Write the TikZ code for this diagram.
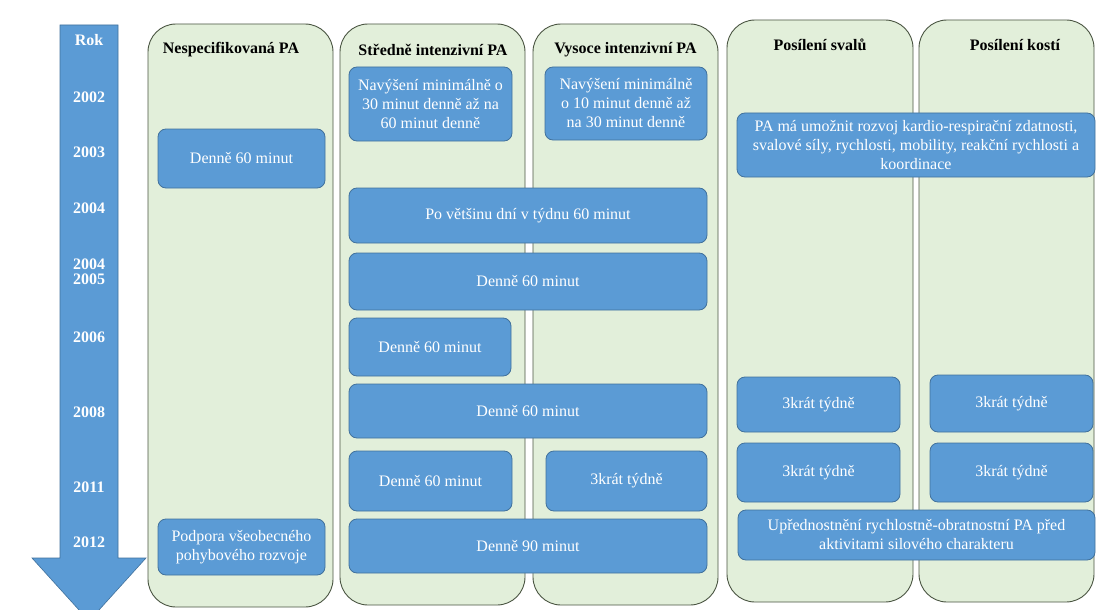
\documentclass[tikz,border=0pt]{standalone}
\usepackage{fontspec}
\setmainfont{Liberation Serif}
\definecolor{bfill}{HTML}{5B9BD5}
\definecolor{bline}{HTML}{41719C}
\definecolor{gfill}{HTML}{E2EFDA}
\definecolor{gline}{HTML}{4A5542}
\begin{document}
\begin{tikzpicture}[x=1pt,y=-1pt,
  colbox/.style={draw=gline, fill=gfill, rounded corners=28pt, line width=0.9pt, inner sep=0pt},
  bbox/.style={draw=bline, fill=bfill, rounded corners=8pt, line width=0.8pt, inner sep=1pt,
    text=white, align=center, font=\fontsize{16}{19}\selectfont},
  head/.style={font=\fontsize{16}{18}\selectfont\bfseries, text=black},
  yr/.style={font=\fontsize{16}{17}\selectfont\bfseries, text=white, align=center}]
\useasboundingbox (0,0) rectangle (1096,610);
\fill[white] (0,0) rectangle (1096,610);
% timeline arrow
\begin{scope}
\clip (0,0) rectangle (1096,610);
\filldraw[fill=bfill, draw=bline, line width=0.6pt]
  (60,25) -- (118,25) -- (118,558) -- (146,558) -- (89,621) -- (32,558) -- (60,558) -- cycle;
\end{scope}
% columns
\node[colbox, minimum width=185pt, minimum height=583pt] (c1) at (240.5,315.5) {};
\node[colbox, minimum width=185pt, minimum height=581pt] (c2) at (432.5,314.5) {};
\node[colbox, minimum width=185pt, minimum height=581pt] (c3) at (625.5,314.5) {};
\node[colbox, minimum width=186pt, minimum height=582pt] (c4) at (820,311) {};
\node[colbox, minimum width=175pt, minimum height=582pt] (c5) at (1006.5,311) {};
% headers
\node[head] (h1) at (231,50) {Nespecifikovaná PA};
\node[head] (h2) at (433,50) {Středně intenzivní PA};
\node[head] (h3) at (625.5,50) {Vysoce intenzivní PA};
\node[head] (h4) at (820,45) {Posílení svalů};
\node[head] (h5) at (1015,45) {Posílení kostí};
% years
\node[yr] (yrok) at (89,40) {Rok};
\node[yr] (y2002) at (89,97) {2002};
\node[yr] (y2003) at (89,152) {2003};
\node[yr] (y2004) at (89,208) {2004};
\node[yr] (y2005) at (89,272) {2004\\[-2pt]2005};
\node[yr] (y2006) at (89,337) {2006};
\node[yr] (y2008) at (89,412) {2008};
\node[yr] (y2011) at (89,487) {2011};
\node[yr] (y2012) at (89,542) {2012};
% blue boxes
\node[bbox, minimum width=167pt, minimum height=59pt] (b1) at (241.5,158.5) {Denně 60 minut};
\node[bbox, minimum width=163pt, minimum height=74pt] (b2) at (430.5,104) {Navýšení minimálně o\\30 minut denně až na\\60 minut denně};
\node[bbox, minimum width=162pt, minimum height=73pt] (b3) at (626,103.5) {Navýšení minimálně\\o 10 minut denně až\\na 30 minut denně};
\node[bbox, minimum width=358pt, minimum height=55pt] (b4) at (528,215.5) {Po většinu dní v týdnu 60 minut};
\node[bbox, minimum width=358pt, minimum height=57pt] (b5) at (528,281.5) {Denně 60 minut};
\node[bbox, minimum width=162pt, minimum height=58pt] (b6) at (430,347) {Denně 60 minut};
\node[bbox, minimum width=358pt, minimum height=54pt] (b7) at (528,411) {Denně 60 minut};
\node[bbox, minimum width=163pt, minimum height=60pt] (b8) at (430.5,481) {Denně 60 minut};
\node[bbox, minimum width=161pt, minimum height=60pt] (b9) at (626.5,481) {\raisebox{5pt}{3krát týdně}};
\node[bbox, minimum width=358pt, minimum height=54pt] (b10) at (528,546) {Denně 90 minut};
\node[bbox, minimum width=167pt, minimum height=56pt] (b11) at (241.5,547) {Podpora všeobecného\\pohybového rozvoje};
\node[bbox, minimum width=358pt, minimum height=64pt] (b12) at (916,145) {PA má umožnit rozvoj kardio-respirační zdatnosti,\\svalové síly, rychlosti, mobility, reakční rychlosti a\\koordinace};
\node[bbox, minimum width=163pt, minimum height=55pt] (b13) at (818.5,404.5) {3krát týdně};
\node[bbox, minimum width=163pt, minimum height=57pt] (b14) at (1011.5,403.5) {3krát týdně};
\node[bbox, minimum width=163pt, minimum height=59pt] (b15) at (818.5,472.5) {3krát týdně};
\node[bbox, minimum width=163pt, minimum height=59pt] (b16) at (1011.5,472.5) {3krát týdně};
\node[bbox, minimum width=357pt, minimum height=50pt] (b17) at (916.5,535) {Upřednostnění rychlostně-obratnostní PA před\\aktivitami silového charakteru};
\end{tikzpicture}
\end{document}
